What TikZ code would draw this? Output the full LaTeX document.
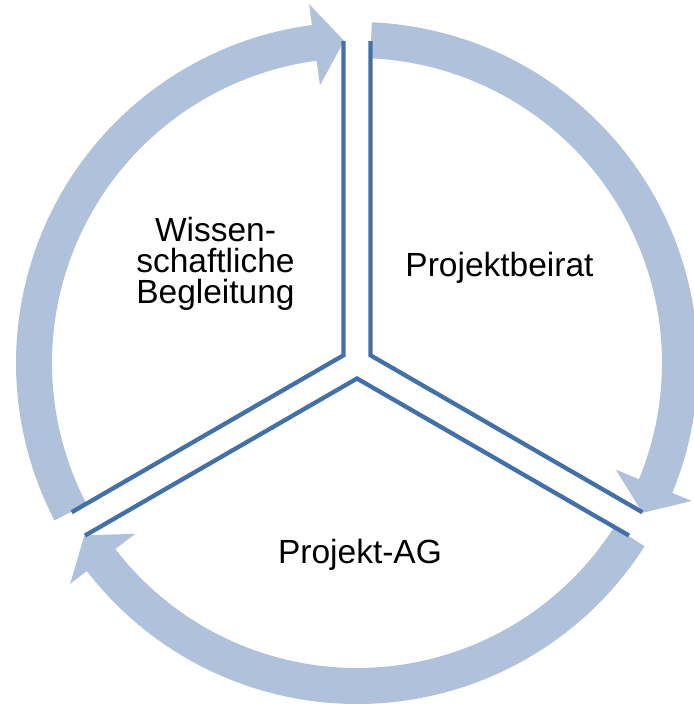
\documentclass[tikz,border=0pt]{standalone}
\usepackage{fontspec}
\setmainfont{Liberation Sans}
\usetikzlibrary{positioning}

\begin{document}
\begin{tikzpicture}[
    x=1pt, y=1pt,
    font=\fontsize{33.5}{31.3}\selectfont,
]

\definecolor{bandCol}{RGB}{176, 193, 220}
\definecolor{lineCol}{RGB}{68, 112, 168}

\tikzset{
    band_arrow/.style = {fill=bandCol, draw=none},
    sector_line/.style = {draw=lineCol, line width=4.3pt, line join=miter},
    label_text/.style = {align=center, inner sep=0pt, text=black}
}

\useasboundingbox (-357,-345) rectangle (336,363);

% =========== CYCLE ARROWS ===========
% right arrow (top -> lower right)
\fill[band_arrow] (87.5:305pt) arc[start angle=87.5, end angle=-22.4, radius=305pt]
    -- (-22.4:280pt) -- (-27.7:322.5pt) -- (-22.4:362pt) -- (-22.4:341pt)
    arc[start angle=-22.4, end angle=87.5, radius=341pt] -- cycle;

% bottom arrow (lower right -> lower left)
\fill[band_arrow] (-32.5:305pt) arc[start angle=-32.5, end angle=-142.4, radius=305pt]
    -- (-142.4:280pt) -- (-147.7:322.5pt) -- (-142.4:362pt) -- (-142.4:341pt)
    arc[start angle=-142.4, end angle=-32.5, radius=341pt] -- cycle;

% left arrow (lower left -> top)
\fill[band_arrow] (207.5:305pt) arc[start angle=207.5, end angle=97.6, radius=305pt]
    -- (97.6:280pt) -- (92.3:322.5pt) -- (97.6:362pt) -- (97.6:341pt)
    arc[start angle=97.6, end angle=207.5, radius=341pt] -- cycle;

% =========== SECTORS ===========
\draw[sector_line, shift={(150:15.5pt)}] (90:314pt) -- (0,0) -- (210:314pt);
\draw[sector_line, shift={(30:15.5pt)}] (90:314pt) -- (0,0) -- (-30:314pt);
\draw[sector_line, shift={(270:15.5pt)}] (210:314pt) -- (0,0) -- (330:314pt);

% =========== LABELS ===========
\node[label_text, anchor=base] (wissenschaft) at (-141.5, 59) {Wissen-\\schaftliche\\Begleitung};
\node[label_text, anchor=base] (beirat) at (142.5, 86) {Projektbeirat};
\node[label_text, anchor=base] (ag) at (3, -200) {Projekt-AG};

\end{tikzpicture}
\end{document}
